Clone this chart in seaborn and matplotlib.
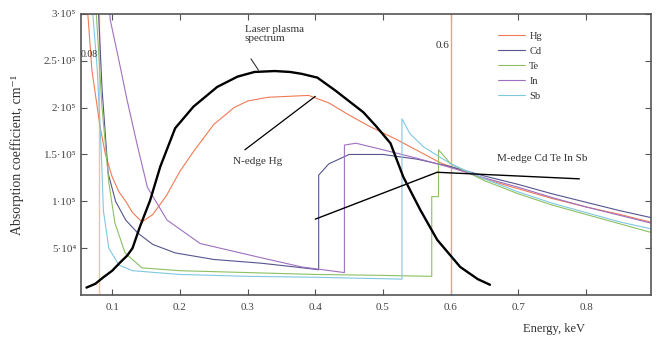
import numpy as np
import pandas as pd
import matplotlib
matplotlib.use("Agg")
import matplotlib.pyplot as plt
import seaborn as sns

# ---- data (energy in keV, absorption coefficient in cm^-1) ----
spec_x = [0.062, 0.075, 0.087, 0.1, 0.112, 0.122, 0.13, 0.141, 0.156, 0.171, 0.193, 0.22, 0.255,
          0.285, 0.31, 0.34, 0.363, 0.38, 0.403, 0.43, 0.471, 0.49, 0.511, 0.53, 0.555, 0.58,
          0.614, 0.64, 0.658]
spec_y = [8e3, 12e3, 19e3, 26e3, 35e3, 42e3, 50e3, 73e3, 101e3, 137e3, 178e3, 201e3, 222e3,
          233e3, 238e3, 239e3, 238e3, 236e3, 232e3, 218e3, 195e3, 180e3, 162e3, 126e3, 91e3, 59e3,
          30e3, 17e3, 11e3]

hg_x = [0.062, 0.07, 0.082, 0.09, 0.1, 0.11, 0.12, 0.13, 0.144, 0.16, 0.18, 0.2, 0.22, 0.25, 0.28,
        0.3, 0.33, 0.36, 0.39, 0.42, 0.45, 0.48, 0.52, 0.585, 0.65, 0.692, 0.75, 0.8, 0.85, 0.9]
hg_y = [320e3, 240e3, 180e3, 150e3, 126e3, 110e3, 100e3, 88e3, 78e3, 86e3, 106e3, 132e3, 153e3,
        182e3, 200e3, 207e3, 211e3, 212e3, 213e3, 205e3, 192e3, 180e3, 166e3, 141e3, 124e3, 115e3,
        103e3, 94e3, 86e3, 77e3]

cd_x = [0.078, 0.085, 0.094, 0.105, 0.12, 0.138, 0.16, 0.193, 0.25, 0.32, 0.37, 0.405, 0.405,
        0.42, 0.45, 0.5, 0.55, 0.6, 0.65, 0.7, 0.75, 0.8, 0.85, 0.9]
cd_y = [330e3, 220e3, 130e3, 100e3, 80e3, 66e3, 54e3, 45e3, 38e3, 34e3, 30e3, 27e3, 128e3,
        140e3, 150e3, 150e3, 145e3, 137e3, 127e3, 118e3, 108e3, 99e3, 90e3, 82e3]

te_x = [0.074, 0.085, 0.095, 0.104, 0.119, 0.144, 0.2, 0.3, 0.4, 0.5, 0.572, 0.572, 0.582, 0.582,
        0.6, 0.65, 0.7, 0.75, 0.8, 0.85, 0.9]
te_y = [330e3, 200e3, 120e3, 77e3, 45e3, 29e3, 26e3, 24e3, 22e3, 21e3, 20e3, 105e3, 105e3, 155e3,
        140e3, 122e3, 108e3, 96e3, 86e3, 76e3, 66e3]

in_x = [0.094, 0.097, 0.11, 0.122, 0.137, 0.152, 0.181, 0.23, 0.319, 0.38, 0.443, 0.443, 0.46,
        0.5, 0.55, 0.6, 0.65, 0.7, 0.75, 0.8, 0.85, 0.9]
in_y = [330e3, 294e3, 250e3, 208e3, 160e3, 115e3, 80e3, 55e3, 40e3, 30e3, 24e3, 160e3, 162e3,
        155e3, 146e3, 136e3, 125e3, 115e3, 104e3, 94e3, 85e3, 76e3]

sb_x = [0.068, 0.078, 0.084, 0.087, 0.095, 0.11, 0.13, 0.2, 0.3, 0.4, 0.528, 0.528, 0.54, 0.56,
        0.6, 0.65, 0.7, 0.75, 0.8, 0.85, 0.9]
sb_y = [330e3, 240e3, 150e3, 90e3, 50e3, 32e3, 26e3, 22e3, 20e3, 19e3, 17e3, 188e3, 172e3,
        158e3, 140e3, 124e3, 110e3, 98e3, 88e3, 78e3, 70e3]

elements = ["Hg", "Cd", "Te", "In", "Sb"]
y_ticks = [5e4, 1e5, 1.5e5, 2e5, 2.5e5, 3e5]
y_ticklabels = ["5·10⁴", "1·10⁵", "1.5·10⁵", "2·10⁵", "2.5·10⁵", "3·10⁵"]
x_ticks = [0.1, 0.2, 0.3, 0.4, 0.5, 0.6, 0.7, 0.8]

colors = {"Hg": "#f07a55", "Cd": "#55558f", "Te": "#8cc063", "In": "#a070c0", "Sb": "#80c8e0"}

# ---- figure ----
sns.set_style("ticks")
plt.rcParams["font.family"] = ["Liberation Serif", "DejaVu Serif"]
fig = plt.figure(figsize=(6.59, 3.38), dpi=100)
ax = fig.add_axes([0.123, 0.127, 0.865, 0.832])

series = {"Hg": (hg_x, hg_y), "Cd": (cd_x, cd_y), "Te": (te_x, te_y),
          "In": (in_x, in_y), "Sb": (sb_x, sb_y)}
for name in elements:
    xs, ys = series[name]
    df = pd.DataFrame({"x": xs, "y": ys})
    sns.lineplot(data=df, x="x", y="y", ax=ax, color=colors[name], lw=0.8,
                 estimator=None, sort=False, label=name)

sdf = pd.DataFrame({"x": spec_x, "y": spec_y})
sns.lineplot(data=sdf, x="x", y="y", ax=ax, color="black", lw=1.7,
             estimator=None, sort=False, legend=False)

ax.axvline(0.6, color="#f5a070", lw=1.0, zorder=1)
ax.axvline(0.08, color="#f5c0a0", lw=1.0, zorder=1)

ax.set_xlim(0.054, 0.896)
ax.set_ylim(0, 3e5)
ax.set_xticks(x_ticks)
ax.set_xticklabels([f"{v:.1f}" for v in x_ticks])
ax.set_yticks(y_ticks)
ax.set_yticklabels(y_ticklabels)
ax.tick_params(direction="in", top=True, right=True, labelsize=8, length=4,
               color="#555555", labelcolor="#444444")
ax.tick_params(axis="x", pad=6)
for s in ax.spines.values():
    s.set_color("#555555")
    s.set_linewidth(1.2)

ax.set_xlabel("Energy, keV", fontsize=9, color="#333333")
ax.xaxis.set_label_coords(0.83, -0.1)
ax.set_ylabel("Absorption coefficient, cm⁻¹", fontsize=10, color="#333333")
ax.yaxis.set_label_coords(-0.1, 0.5)

# annotations
tc = "#333333"
ax.text(0.296, 288e3, "Laser plasma\nspectrum", fontsize=8, color=tc, va="top", ha="left",
        linespacing=0.95)
ax.plot([0.305, 0.316], [252e3, 240e3], color=tc, lw=0.8)
ax.text(0.279, 142e3, "N-edge Hg", fontsize=8, color=tc, va="center", ha="left")
ax.plot([0.296, 0.4], [155e3, 212e3], color="black", lw=0.9)
ax.text(0.668, 146e3, "M-edge Cd Te In Sb", fontsize=8, color=tc, va="center", ha="left")
ax.plot([0.4, 0.58], [81e3, 131e3], color="black", lw=1.0)
ax.plot([0.58, 0.79], [131e3, 124e3], color="black", lw=1.0)
ax.text(0.598, 266e3, "0.6", fontsize=8, color=tc, va="center", ha="right")
ax.text(0.079, 257e3, "0.08", fontsize=7, color=tc, va="center", ha="right")

leg = ax.legend(loc="upper left", bbox_to_anchor=(0.715, 0.97), frameon=False, fontsize=7.5,
                handlelength=2.6, labelspacing=0.55, handletextpad=0.4)
for t in leg.get_texts():
    t.set_color("#333333")

fig.savefig("out.png", dpi=100)
